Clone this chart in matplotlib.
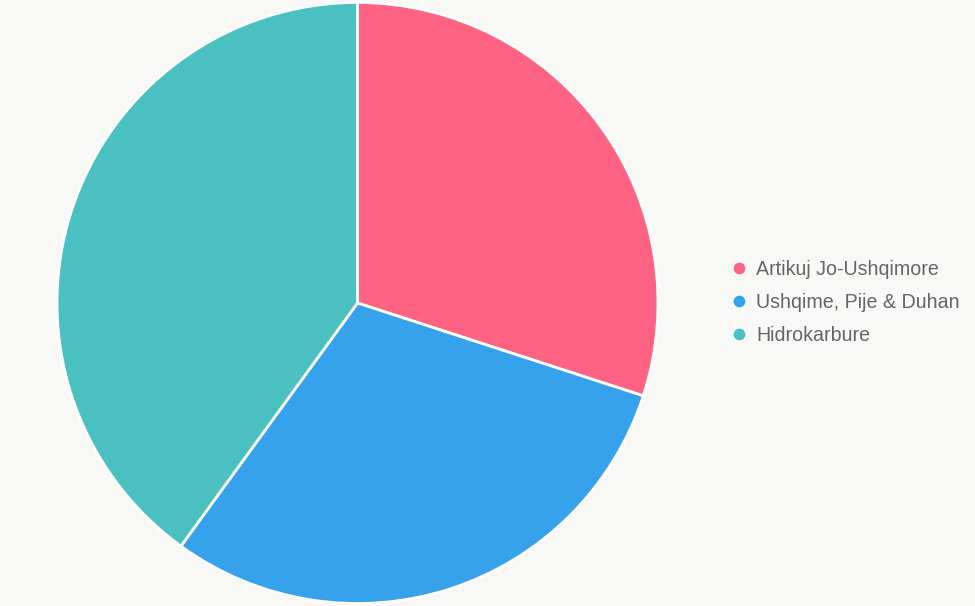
import matplotlib
matplotlib.use("Agg")
import matplotlib.pyplot as plt
from matplotlib.lines import Line2D

categories = ["Artikuj Jo-Ushqimore", "Ushqime, Pije & Duhan", "Hidrokarbure"]
values = [30, 30, 40]
colors = ["#FF6384", "#36A2EB", "#4BC0C0"]

W, H = 975, 606
bg = "#F8F8F7"
fig = plt.figure(figsize=(W / 100, H / 100), dpi=100, facecolor=bg)

cx, cy, r = 357.5, 303.0, 300.5
ax = fig.add_axes([(cx - r) / W, (H - cy - r) / H, 2 * r / W, 2 * r / H])
ax.set_facecolor(bg)
ax.pie(values, colors=colors, startangle=90, counterclock=False,
       wedgeprops=dict(edgecolor="white", linewidth=2))
ax.set_xlim(-1, 1)
ax.set_ylim(-1, 1)
ax.set_aspect("equal")
ax.axis("off")

handles = [Line2D([], [], marker="o", linestyle="none", markersize=9.5,
                  markerfacecolor=c, markeredgecolor="white", markeredgewidth=1)
           for c in colors]
leg = fig.legend(handles, categories, loc="center left",
                 bbox_to_anchor=(731 / W, 1 - 302.5 / H),
                 frameon=False, handlelength=0.8, handletextpad=0.5,
                 labelspacing=0.72, borderpad=0, borderaxespad=0,
                 prop={"family": "Liberation Sans", "size": 14.1})
for t in leg.get_texts():
    t.set_color("#666666")

fig.savefig("out.png", dpi=100, facecolor=bg)
